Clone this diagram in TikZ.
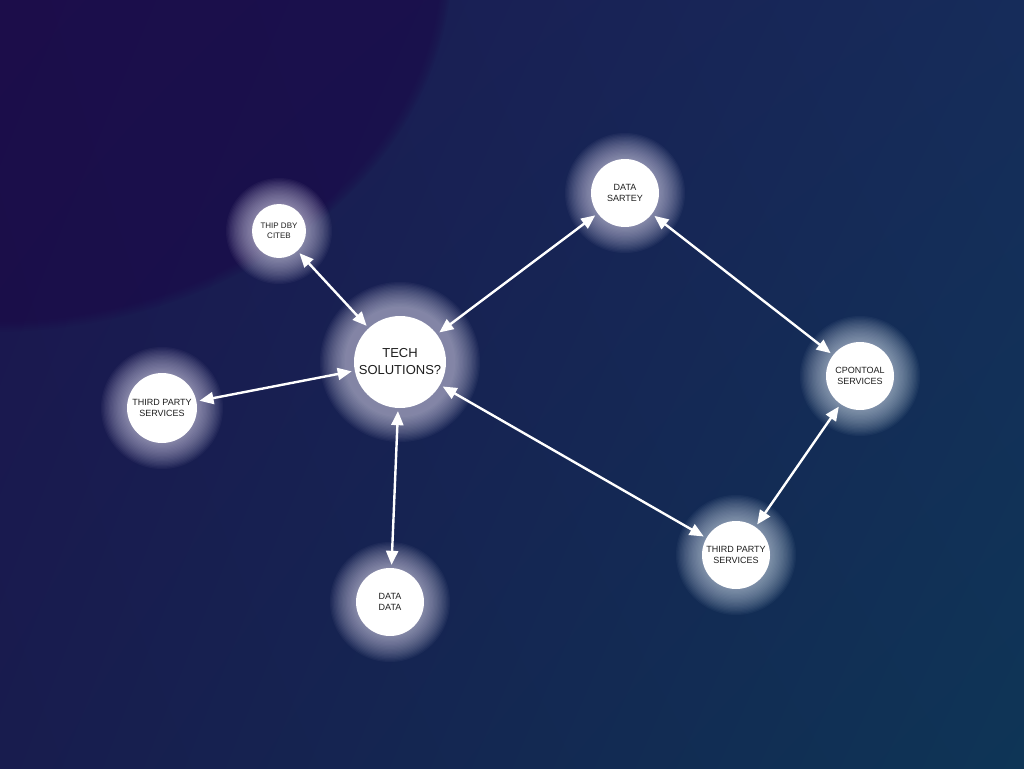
\documentclass[tikz,border=0pt]{standalone}
\usepackage{fontspec}
\setmainfont{Liberation Sans}
\usetikzlibrary{arrows.meta,shadings}
\definecolor{bgUL}{HTML}{1C1550}
\definecolor{bgUR}{HTML}{162C5A}
\definecolor{bgLL}{HTML}{181C4E}
\definecolor{bgLR}{HTML}{0E3556}
\definecolor{bgDark}{HTML}{200848}
\definecolor{glowc}{HTML}{E6E2F6}
\definecolor{glowb}{HTML}{DCE8F4}
\definecolor{txt}{HTML}{1E1E1E}
\tikzset{
  nodecircle/.style={circle, fill=white, draw=none, inner sep=0pt, text=txt, align=center, font=\fontsize{9}{11.5}\selectfont},
  bigtext/.style={font=\fontsize{13}{17}\selectfont},
  smalltext/.style={font=\fontsize{8}{10.5}\selectfont},
  link/.style={white, line width=2.4pt, {Triangle[length=14pt,width=12pt]}-{Triangle[length=14pt,width=12pt]}, shorten <=3pt, shorten >=3pt}
}
\newcommand{\glowat}[4]{% x, y, radius, color
  \foreach \k in {0,...,19}{
    \fill[#4, opacity=0.04] (#1,#2) circle ({#3+26-1.3*\k});
  }
}
\begin{document}
\begin{tikzpicture}[x=1pt,y=-1pt]
\useasboundingbox (0,0) rectangle (1024,768);
\shade[upper left=bgUL, upper right=bgUR, lower left=bgLL, lower right=bgLR] (0,0) rectangle (1024,768);
\begin{scope}
\clip (0,0) rectangle (1024,768);
\foreach \k in {0,...,5}{
  \fill[bgDark, opacity=0.11] (-10,-40) ellipse ({462-2*\k} and {372-2*\k});
}
\end{scope}
% glows
\glowat{279}{231}{27}{glowc}
\glowat{625}{193}{34}{glowc}
\glowat{400}{362}{54}{glowc}
\glowat{162}{408}{35}{glowc}
\glowat{390}{602}{34}{glowc}
\glowat{860}{376}{34}{glowb}
\glowat{736}{555}{34}{glowb}
% nodes
\node[nodecircle, minimum size=54pt, smalltext] (thip) at (279,231) {THIP DBY\\CITEB};
\node[nodecircle, minimum size=68pt] (sartey) at (625,193) {DATA\\SARTEY};
\node[nodecircle, minimum size=92pt, bigtext] (tech) at (400,362) {TECH\\SOLUTIONS?};
\node[nodecircle, minimum size=70pt] (left) at (162,408) {THIRD PARTY\\SERVICES};
\node[nodecircle, minimum size=68pt] (data) at (390,602) {DATA\\DATA};
\node[nodecircle, minimum size=68pt] (cpont) at (860,376) {CPONTOAL\\SERVICES};
\node[nodecircle, minimum size=68pt] (third) at (736,555) {THIRD PARTY\\SERVICES};
% links
\draw[link] (thip) -- (tech);
\draw[link] (tech) -- (left);
\draw[link] (tech) -- (sartey);
\draw[link] (tech) -- (data);
\draw[link] (tech) -- (third);
\draw[link] (sartey) -- (cpont);
\draw[link] (cpont) -- (third);
\end{tikzpicture}
\end{document}
